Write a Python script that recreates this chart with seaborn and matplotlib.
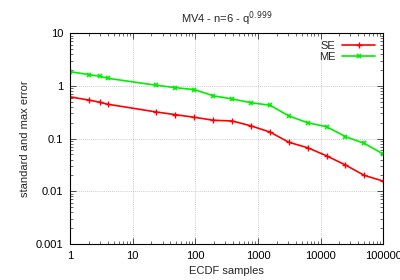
import numpy as np
import pandas as pd
import matplotlib
matplotlib.use("Agg")
import matplotlib.pyplot as plt
import seaborn as sns
from matplotlib.ticker import LogLocator, NullFormatter, FixedLocator, FixedFormatter

# ECDF sample counts (log x axis)
samples = [1, 2, 3, 4, 24, 48, 97, 195, 390, 781, 1562, 3125, 6250, 12500, 25000, 50000, 100000]

# standard error (SE) and max error (ME)
se = [0.62, 0.54, 0.49, 0.45, 0.32, 0.285, 0.254, 0.223, 0.216, 0.174, 0.133,
      0.085, 0.067, 0.047, 0.0315, 0.020, 0.0156]
me = [1.87, 1.64, 1.53, 1.40, 1.03, 0.93, 0.85, 0.65, 0.566, 0.48, 0.43,
      0.269, 0.20, 0.168, 0.109, 0.081, 0.051]

df = pd.DataFrame({"samples": samples, "SE": se, "ME": me})

sns.set_style("white")
plt.rcParams["font.family"] = ["Liberation Sans", "DejaVu Sans"]

fig = plt.figure(figsize=(4, 2.8), dpi=100)
ax = fig.add_axes([0.175, 0.129, 0.783, 0.752])

red = "#ff0000"
green = "#00ee00"
sns.lineplot(data=df, x="samples", y="SE", ax=ax, color=red, linewidth=1.2,
             marker="+", markersize=4.5, markeredgewidth=1, markeredgecolor=red, label="SE")
sns.lineplot(data=df, x="samples", y="ME", ax=ax, color=green, linewidth=1.2,
             marker="x", markersize=3.5, markeredgewidth=1.2, markeredgecolor=green, label="ME")

ax.set_xscale("log")
ax.set_yscale("log")
ax.set_xlim(1, 100000)
ax.set_ylim(0.001, 10)

xt = [1, 10, 100, 1000, 10000, 100000]
yt = [0.001, 0.01, 0.1, 1, 10]
ax.xaxis.set_major_locator(FixedLocator(xt))
ax.xaxis.set_major_formatter(FixedFormatter(["1", "10", "100", "1000", "10000", "100000"]))
ax.yaxis.set_major_locator(FixedLocator(yt))
ax.yaxis.set_major_formatter(FixedFormatter(["0.001", "0.01", "0.1", "1", "10"]))
ax.xaxis.set_minor_locator(LogLocator(base=10, subs=np.arange(2, 10)))
ax.yaxis.set_minor_locator(LogLocator(base=10, subs=np.arange(2, 10)))
ax.xaxis.set_minor_formatter(NullFormatter())
ax.yaxis.set_minor_formatter(NullFormatter())

ax.tick_params(which="both", direction="in", top=True, right=True, bottom=True, left=True,
               colors="#333333", labelcolor="black", labelsize=8)
ax.tick_params(which="major", length=4, width=0.6, pad=5)
ax.tick_params(which="minor", length=2, width=0.5)

ax.grid(True, which="major", color="#b8b8b8", linestyle=(0, (1, 1.5)), linewidth=0.6)
for s in ax.spines.values():
    s.set_color("black")
    s.set_linewidth(0.8)

ax.set_xlabel("ECDF samples", fontsize=8, labelpad=4)
ax.set_ylabel("standard and max error", fontsize=8, labelpad=4)
ax.set_title("MV4 - n=6 - q$^{0.999}$", fontsize=8, pad=8)

leg = ax.legend(loc="upper right", frameon=False, markerfirst=False, fontsize=8,
                handlelength=3, borderaxespad=0.3, labelspacing=0.1, handletextpad=0.6)

fig.savefig("out.png", dpi=100)
